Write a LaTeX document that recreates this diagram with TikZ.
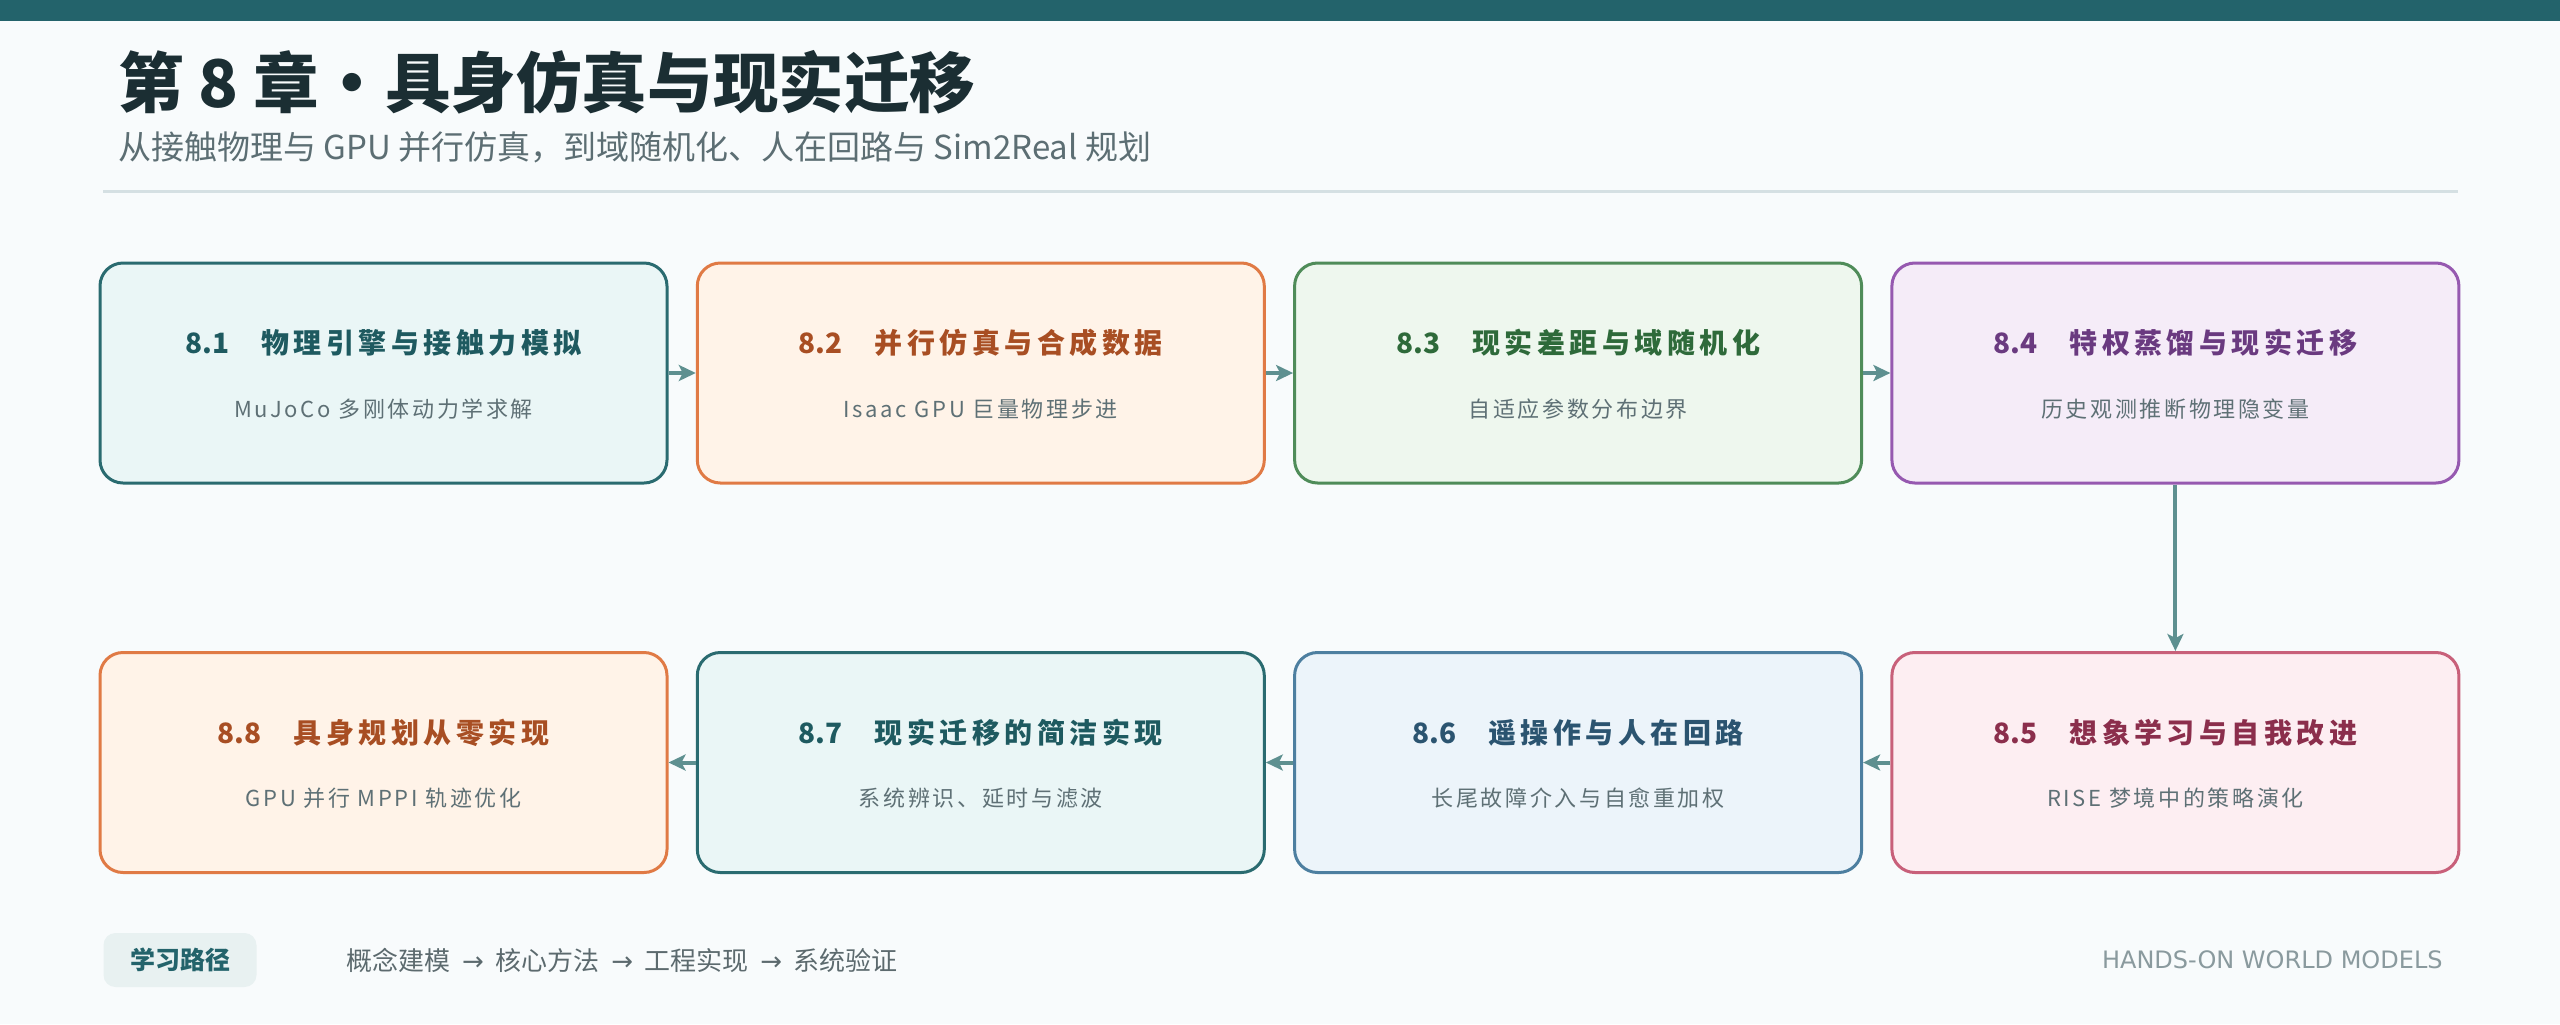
\documentclass[tikz,border=0pt]{standalone}
\usepackage{fontspec}
\setmainfont{Noto Sans CJK SC}
\newfontfamily\brandfont{DejaVu Sans}
\usetikzlibrary{arrows.meta,calc}
\definecolor{bgc}{HTML}{F8FBFC}
\definecolor{topbar}{HTML}{23636B}
\definecolor{titlec}{HTML}{1B2E33}
\definecolor{subtitlec}{HTML}{5C6E73}
\definecolor{divc}{HTML}{D5E0E3}
\definecolor{arrowc}{HTML}{5E9090}
\definecolor{subc}{HTML}{5E7075}
\definecolor{tealB}{HTML}{2A6B70}\definecolor{tealF}{HTML}{EAF6F6}\definecolor{tealH}{HTML}{1E5A60}
\definecolor{oranB}{HTML}{E07A45}\definecolor{oranF}{HTML}{FFF3E8}\definecolor{oranH}{HTML}{A84E23}
\definecolor{grenB}{HTML}{4F8C59}\definecolor{grenF}{HTML}{EEF7EE}\definecolor{grenH}{HTML}{2E6A3A}
\definecolor{purpB}{HTML}{9659B0}\definecolor{purpF}{HTML}{F5ECF8}\definecolor{purpH}{HTML}{6A3A80}
\definecolor{pinkB}{HTML}{C8607A}\definecolor{pinkF}{HTML}{FDEEF2}\definecolor{pinkH}{HTML}{8B2E4C}
\definecolor{bluB}{HTML}{4D7FA0}\definecolor{bluF}{HTML}{ECF4FA}\definecolor{bluH}{HTML}{2B5470}
\definecolor{pillF}{HTML}{E8F1F1}
\definecolor{pathc}{HTML}{5C6A6E}
\definecolor{brandc}{HTML}{8A9A9E}
\newcommand\hfont{\fontsize{14}{15}\bfseries}
\newcommand\hcjk{\addfontfeature{LetterSpace=16}}
\newcommand\sfontx{\fontsize{11}{12}\selectfont\addfontfeature{LetterSpace=12}}
\newcommand\hd[2]{#1\hspace{1.15em}{\hcjk #2}}
\newcommand\arr{\hspace{0.45em}{\brandfont →}\hspace{0.45em}}
\tikzset{
  chbox/.style={draw, rounded corners=11.5pt, line width=1.5pt, minimum width=283.5pt, minimum height=110pt, inner sep=0pt},
  teal/.style={chbox, draw=tealB, fill=tealF},
  oran/.style={chbox, draw=oranB, fill=oranF},
  gren/.style={chbox, draw=grenB, fill=grenF},
  purp/.style={chbox, draw=purpB, fill=purpF},
  pink/.style={chbox, draw=pinkB, fill=pinkF},
  blu/.style={chbox, draw=bluB, fill=bluF},
  head/.style={font=\hfont, inner sep=0pt},
  subt/.style={font=\sfontx, text=subc, inner sep=0pt},
  flow/.style={draw=arrowc, line width=2pt, -{Stealth[length=8.5pt,width=8pt,inset=2pt]}},
}
\begin{document}
\begin{tikzpicture}[x=0.5pt,y=-0.5pt]
\fill[bgc] (0,0) rectangle (2560,1024);
\useasboundingbox (0,0) rectangle (2560,1024);
\fill[topbar] (0,0) rectangle (2560,21);
\node[anchor=base west, inner sep=0pt, text=titlec, font=\fontsize{32.8}{34}\bfseries] (title) at (118,107) {第 8 章·具身仿真与现实迁移};
\node[anchor=base west, inner sep=0pt, text=subtitlec, font=\fontsize{16.5}{17}\selectfont] (subtitle) at (118,159) {从接触物理与 GPU 并行仿真，到域随机化、人在回路与 Sim2Real 规划};
\draw[divc, line width=1.5pt] (103,191) -- (2458,191);

% row 1
\node[teal] (b1) at (383.5,373) {};
\node[oran] (b2) at (980.8,373) {};
\node[gren] (b3) at (1578.1,373) {};
\node[purp] (b4) at (2175.4,373) {};
% row 2
\node[pink] (b5) at (2175.4,762.5) {};
\node[blu]  (b6) at (1578.1,762.5) {};
\node[teal] (b7) at (980.8,762.5) {};
\node[oran] (b8) at (383.5,762.5) {};

\node[head, text=tealH] (h1) at ($(b1)+(0,-30)$) {\hd{8.1}{物理引擎与接触力模拟}};
\node[subt] (s1) at ($(b1)+(0,36)$) {MuJoCo 多刚体动力学求解};
\node[head, text=oranH] (h2) at ($(b2)+(0,-30)$) {\hd{8.2}{并行仿真与合成数据}};
\node[subt] (s2) at ($(b2)+(0,36)$) {Isaac GPU 巨量物理步进};
\node[head, text=grenH] (h3) at ($(b3)+(0,-30)$) {\hd{8.3}{现实差距与域随机化}};
\node[subt] (s3) at ($(b3)+(0,36)$) {自适应参数分布边界};
\node[head, text=purpH] (h4) at ($(b4)+(0,-30)$) {\hd{8.4}{特权蒸馏与现实迁移}};
\node[subt] (s4) at ($(b4)+(0,36)$) {历史观测推断物理隐变量};
\node[head, text=pinkH] (h5) at ($(b5)+(0,-30)$) {\hd{8.5}{想象学习与自我改进}};
\node[subt] (s5) at ($(b5)+(0,36)$) {RISE 梦境中的策略演化};
\node[head, text=bluH] (h6) at ($(b6)+(0,-30)$) {\hd{8.6}{遥操作与人在回路}};
\node[subt] (s6) at ($(b6)+(0,36)$) {长尾故障介入与自愈重加权};
\node[head, text=tealH] (h7) at ($(b7)+(0,-30)$) {\hd{8.7}{现实迁移的简洁实现}};
\node[subt] (s7) at ($(b7)+(0,36)$) {系统辨识、延时与滤波};
\node[head, text=oranH] (h8) at ($(b8)+(0,-30)$) {\hd{8.8}{具身规划从零实现}};
\node[subt] (s8) at ($(b8)+(0,36)$) {GPU 并行 MPPI 轨迹优化};

\draw[flow] (b1.east) -- (b2.west);
\draw[flow] (b2.east) -- (b3.west);
\draw[flow] (b3.east) -- (b4.west);
\draw[flow] (b4.south) -- (b5.north);
\draw[flow] (b5.west) -- (b6.east);
\draw[flow] (b6.west) -- (b7.east);
\draw[flow] (b7.west) -- (b8.east);

% footer
\node[fill=pillF, rounded corners=6pt, minimum width=76.5pt, minimum height=27pt, inner sep=0pt, text=topbar, font=\fontsize{12.5}{13}\bfseries] (pill) at (180,960) {学习路径};
\node[anchor=west, inner sep=0pt, text=pathc, font=\fontsize{13}{14}\selectfont] (steps) at (346,960) {概念建模\arr 核心方法\arr 工程实现\arr 系统验证};
\node[anchor=east, inner sep=0pt, text=brandc, font=\brandfont\fontsize{12}{13}\selectfont] (brand) at (2443,960) {HANDS-ON WORLD MODELS};
\end{tikzpicture}
\end{document}
